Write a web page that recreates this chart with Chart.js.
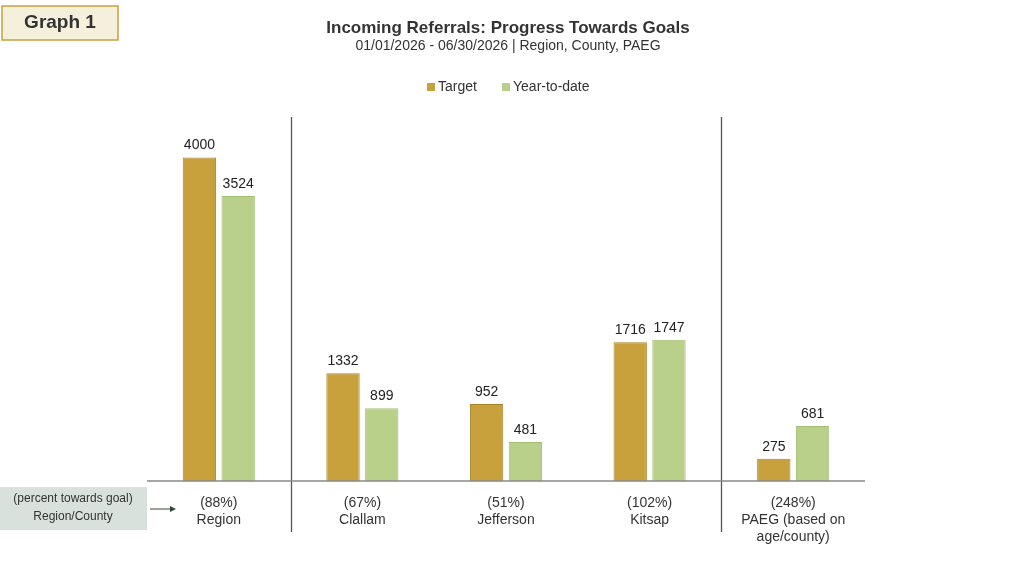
<!DOCTYPE html>
<html><head><meta charset="utf-8">
<script src="https://cdn.jsdelivr.net/npm/chart.js@4"></script>
<style>body{margin:0;background:#fff}#wrap{width:1024px;height:572px;position:relative}</style>
</head><body><div id="wrap"><canvas id="c" width="1024" height="572"></canvas></div>
<script>
const categories = [['(88%)','Region'],['(67%)','Clallam'],['(51%)','Jefferson'],['(102%)','Kitsap'],['(248%)','PAEG (based on','age/county)']];
const targetValues = [4000, 1332, 952, 1716, 275];
const ytdValues = [3524, 899, 481, 1747, 681];
const seriesNames = ['Target', 'Year-to-date'];
const FONT = '"Liberation Sans", Arial, sans-serif';

const extras = {
  id: 'extras',
  afterDraw(chart) {
    const ctx = chart.ctx, x = chart.scales.x, y = chart.scales.y;
    ctx.save();
    // title
    ctx.fillStyle = '#333'; ctx.textAlign = 'center';
    ctx.font = 'bold 17px ' + FONT;
    ctx.fillText('Incoming Referrals: Progress Towards Goals', 508, 33);
    ctx.font = '14px ' + FONT;
    ctx.fillText('01/01/2026 - 06/30/2026 | Region, County, PAEG', 508, 50);
    // legend
    ctx.font = '14px ' + FONT; ctx.textAlign = 'left'; ctx.textBaseline = 'middle';
    ctx.fillStyle = '#C9A13C'; ctx.fillRect(427, 83, 8, 8);
    ctx.fillStyle = '#333'; ctx.fillText(seriesNames[0], 438, 87);
    ctx.fillStyle = '#B8D08A'; ctx.fillRect(502, 83, 8, 8);
    ctx.fillStyle = '#333'; ctx.fillText(seriesNames[1], 513, 87);
    // graph label box
    ctx.fillStyle = '#F5F0DC'; ctx.fillRect(2, 6, 116, 34);
    ctx.strokeStyle = '#C9A13C'; ctx.lineWidth = 1.5; ctx.strokeRect(2, 6, 116, 34);
    ctx.fillStyle = '#333'; ctx.font = 'bold 19px ' + FONT; ctx.textAlign = 'center';
    ctx.fillText('Graph 1', 60, 23);
    // left note box
    ctx.fillStyle = '#D9E1DC'; ctx.fillRect(0, 487, 147, 43);
    ctx.fillStyle = '#333'; ctx.font = '12px ' + FONT;
    ctx.fillText('(percent towards goal)', 73, 499);
    ctx.fillText('Region/County', 73, 517);
    ctx.strokeStyle = '#2E4A3A'; ctx.lineWidth = 1;
    ctx.beginPath(); ctx.moveTo(150, 509); ctx.lineTo(172, 509); ctx.stroke();
    ctx.fillStyle = '#2E4A3A';
    ctx.beginPath(); ctx.moveTo(176, 509); ctx.lineTo(170, 506); ctx.lineTo(170, 512); ctx.fill();
    // separators
    ctx.strokeStyle = '#555'; ctx.lineWidth = 1.3;
    [0.5, 3.5].forEach(i => {
      const px = Math.round(x.getPixelForValue(i)) + 0.5;
      ctx.beginPath(); ctx.moveTo(px, 117); ctx.lineTo(px, 532); ctx.stroke();
    });
    // baseline
    ctx.strokeStyle = '#888'; ctx.lineWidth = 1.5;
    ctx.beginPath(); ctx.moveTo(chart.chartArea.left, y.getPixelForValue(0)); ctx.lineTo(chart.chartArea.right, y.getPixelForValue(0)); ctx.stroke();
    // value labels
    ctx.fillStyle = '#222'; ctx.font = '14px ' + FONT; ctx.textBaseline = 'bottom';
    chart.data.datasets.forEach((ds, di) => {
      chart.getDatasetMeta(di).data.forEach((bar, i) => {
        ctx.fillText(String(ds.data[i]), bar.x, bar.y - 5);
      });
    });
    ctx.restore();
  }
};

new Chart(document.getElementById('c'), {
  type: 'bar',
  data: {
    labels: categories,
    datasets: [
      { label: seriesNames[0], data: targetValues, backgroundColor: '#C9A13C', borderColor: '#A9832A', borderWidth: 1 },
      { label: seriesNames[1], data: ytdValues, backgroundColor: '#B8D08A', borderColor: '#A3BF72', borderWidth: 1 }
    ]
  },
  options: {
    responsive: false, animation: false,
    layout: { padding: { left: 147, right: 159, top: 117, bottom: 0 } },
    plugins: { legend: { display: false }, tooltip: { enabled: false } },
    datasets: { bar: { categoryPercentage: 0.54, barPercentage: 0.86 } },
    scales: {
      y: { display: false, min: 0, max: 4500 },
      x: {
        grid: { display: false }, border: { display: false },
        ticks: { color: '#333', font: { family: FONT, size: 14 }, padding: 6, maxRotation: 0 },
        afterFit: s => { s.height = 91; }
      }
    }
  },
  plugins: [extras]
});
</script></body></html>
